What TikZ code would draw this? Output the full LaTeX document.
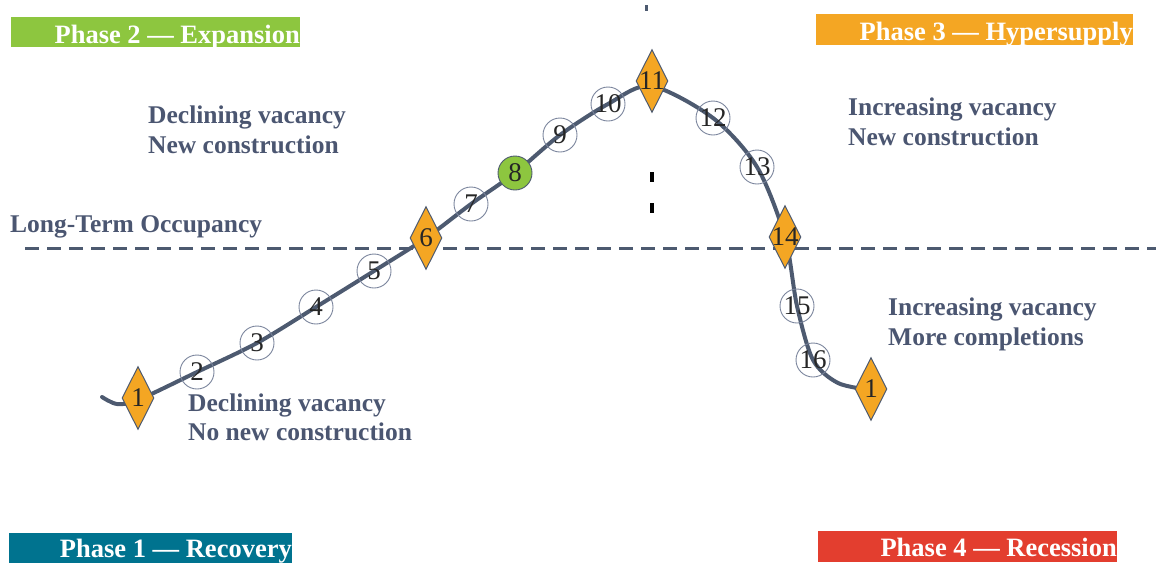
\documentclass[tikz,border=0pt]{standalone}
\usepackage{fontspec}
\setmainfont{Liberation Serif}
\usetikzlibrary{shapes.geometric}
\definecolor{slate}{HTML}{4D5A70}
\definecolor{txtc}{HTML}{4B5671}
\definecolor{ringc}{HTML}{7A849C}
\definecolor{orng}{HTML}{F4A623}
\definecolor{grn}{HTML}{8DC63F}
\definecolor{teal}{HTML}{00738F}
\definecolor{redc}{HTML}{E33E2F}
\begin{document}
\begin{tikzpicture}[x=1pt,y=-1pt,
  curve/.style={draw=slate, line width=4pt, line cap=round},
  dashline/.style={draw=slate, line width=3pt, dash pattern=on 14pt off 8pt},
  num/.style={circle, draw=ringc, line width=0.9pt, minimum size=34pt, inner sep=0pt, font=\fontsize{27}{27}\selectfont, text=black!85},
  numg/.style={num, fill=grn, draw=slate},
  dmd/.style={diamond, draw=slate, line width=1pt, fill=orng, aspect=0.5, minimum width=32pt, minimum height=63pt, inner sep=0pt},
  dlab/.style={font=\fontsize{27}{27}\selectfont, text=black!85},
  body/.style={anchor=base west, inner sep=0pt, text=txtc, font=\fontsize{25.5}{30}\selectfont\bfseries},
  bannerbox/.style={rectangle, inner sep=0pt, draw=none},
  bannertxt/.style={anchor=base east, inner sep=0pt, text=white, font=\fontsize{26.5}{30}\selectfont\bfseries},
  tick/.style={line width=4pt}
]
\useasboundingbox (0,0) rectangle (1156,563);

% banners
\node[bannerbox, fill=grn, minimum width=289pt, minimum height=30pt] (b2) at (155.5,32) {};
\node[bannertxt] (t2) at (300,43) {Phase 2 — Expansion};
\node[bannerbox, fill=orng, minimum width=317pt, minimum height=31pt] (b3) at (974.5,29.5) {};
\node[bannertxt] (t3) at (1133,40) {Phase 3 — Hypersupply};
\node[bannerbox, fill=teal, minimum width=283pt, minimum height=30pt] (b1) at (150.5,548) {};
\node[bannertxt] (t1) at (292,557) {Phase 1 — Recovery};
\node[bannerbox, fill=redc, minimum width=299pt, minimum height=31pt] (b4) at (967.5,546.5) {};
\node[bannertxt] (t4) at (1117,556) {Phase 4 — Recession};

% body texts
\node[body] (x1) at (148,123) {Declining vacancy};
\node[body] (x2) at (148,153) {New construction};
\node[body] (x3) at (848,115) {Increasing vacancy};
\node[body] (x4) at (848,145) {New construction};
\node[body] (x5) at (10,232) {Long-Term Occupancy};
\node[body] (x6) at (888,315) {Increasing vacancy};
\node[body] (x7) at (888,345) {More completions};
\node[body] (x8) at (188,411) {Declining vacancy};
\node[body] (x9) at (188,440) {No new construction};

% vertical fragments
\coordinate (v0) at (646,5);
\coordinate (v1) at (646,11);
\draw[slate, line width=3pt] (v0) -- (v1);
\coordinate (v2) at (652,172);
\coordinate (v3) at (652,182);
\draw[black, tick] (v2) -- (v3);
\coordinate (v4) at (652,203);
\coordinate (v5) at (652,213);
\draw[black, tick] (v4) -- (v5);

% long-term line
\coordinate (L0) at (25,248);
\coordinate (L1) at (1156,248);
\draw[dashline] (L0) -- (L1);

% curve points
\coordinate (p0) at (102,397);
\coordinate (p1) at (117,404);
\coordinate (p2) at (138,400);
\coordinate (p3) at (197,372);
\coordinate (p4) at (257,343);
\coordinate (p5) at (316,307);
\coordinate (p6) at (374,271);
\coordinate (p7) at (426,238);
\coordinate (p8) at (471,204);
\coordinate (p9) at (515,173);
\coordinate (p10) at (560,135);
\coordinate (p11) at (608,104);
\coordinate (p12) at (651,86);
\coordinate (p13) at (713,118);
\coordinate (p14) at (757,167);
\coordinate (p15) at (785,237);
\coordinate (p16) at (797,306);
\coordinate (p17) at (813,360);
\coordinate (p18) at (838,383);
\coordinate (p19) at (871,390);
\draw[curve] plot[smooth, tension=0.5] coordinates {(p0) (p1) (p2) (p3) (p4) (p5) (p6) (p7) (p8) (p9) (p10) (p11) (p12) (p13) (p14) (p15) (p16) (p17) (p18) (p19)};

% circles
\node[num] (n2) at (197,372) {2};
\node[num] (n3) at (257,343) {3};
\node[num] (n4) at (316,307) {4};
\node[num] (n5) at (374,271) {5};
\node[num] (n7) at (471,204) {7};
\node[numg] (n8) at (515,173) {8};
\node[num] (n9) at (560,135) {9};
\node[num] (n10) at (608,104) {10};
\node[num] (n12) at (713,118) {12};
\node[num] (n13) at (757,167) {13};
\node[num] (n15) at (797,306) {15};
\node[num] (n16) at (813,360) {16};

% diamonds
\node[dmd, label={[dlab]center:1}] (d1) at (138,398) {};
\node[dmd, label={[dlab]center:6}] (d6) at (426,238) {};
\node[dmd, label={[dlab]center:11}] (d11) at (652,81) {};
\node[dmd, label={[dlab]center:14}] (d14) at (785,237) {};
\node[dmd, label={[dlab]center:1}] (d1b) at (871,389) {};
\end{tikzpicture}
\end{document}
